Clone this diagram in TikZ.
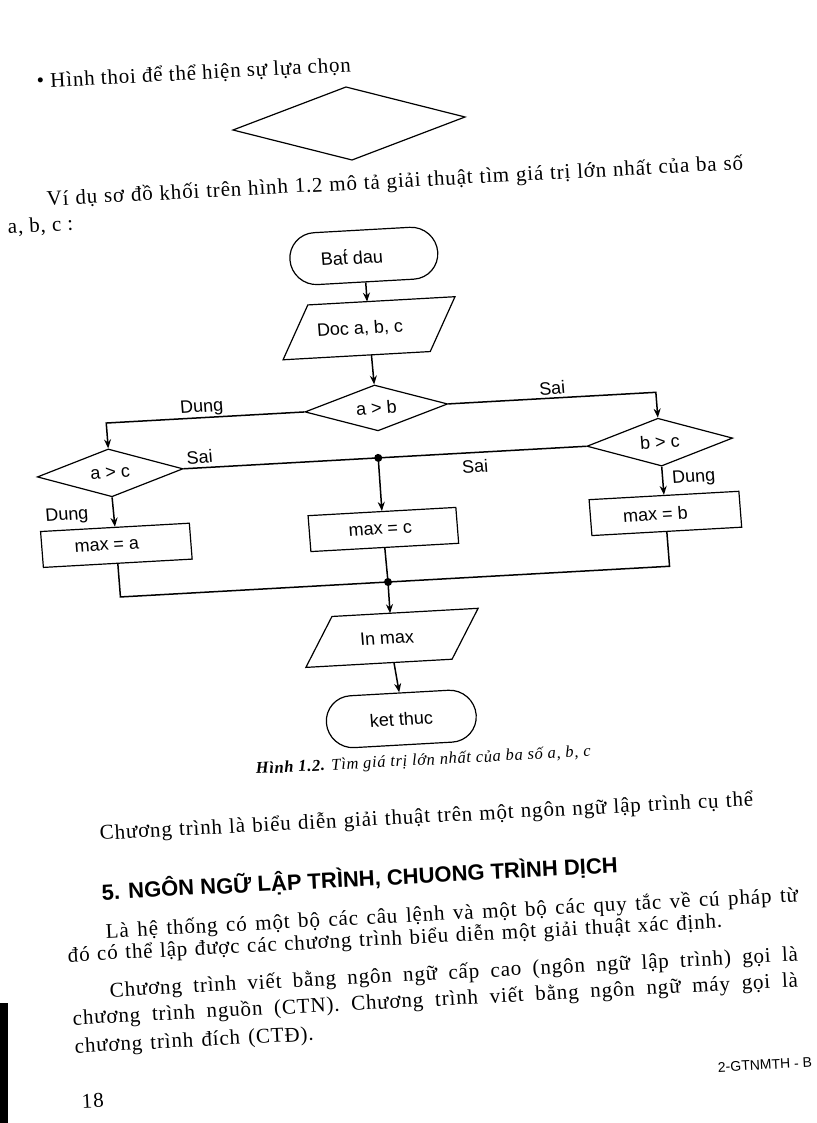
\documentclass[tikz,border=0pt]{standalone}
\usepackage{fontspec}
\setmainfont{Liberation Serif}[LetterSpace=4]
\newfontfamily\arialf{Liberation Sans}
\usetikzlibrary{shapes.geometric,shapes.misc,arrows.meta}
\newcommand\bodyfont{\fontsize{21pt}{25pt}\selectfont}
\newcommand\chartfont{\arialf\fontsize{18pt}{20pt}\selectfont}
\begin{document}
\begin{tikzpicture}[x=1pt,y=1pt,
  txt/.style={inner sep=0pt, anchor=base west, rotate=3, font=\bodyfont},
  shp/.style={draw, line width=1.2pt, font=\chartfont, inner sep=0pt},
  term/.style={shp, rounded rectangle, minimum width=148pt, minimum height=52pt},
  iobox/.style={inner sep=0pt, font=\chartfont, rectangle, minimum width=147pt},
  para/.style={line width=1.2pt},
  proc/.style={shp, rectangle, minimum width=149pt, minimum height=36pt},
  dec/.style={shp, diamond, aspect=3, minimum width=146pt, minimum height=48pt},
  lbl/.style={inner sep=0pt, font=\chartfont},
  arr/.style={line width=1.5pt, -{Stealth[length=9pt,width=7pt]}},
  conn/.style={line width=1.5pt}]
\useasboundingbox (0,0) rectangle (816,-1123);
\fill[white] (0,0) rectangle (816,-1123);

% top diamond (Hinh thoi)
\coordinate (hl) at (233,-130);
\coordinate (ht) at (346,-87);
\coordinate (hr) at (465,-117);
\coordinate (hb) at (352,-160);
\draw[line width=1.2pt] (hl) -- (ht) -- (hr) -- (hb) -- cycle;

% page text
\node[txt] (t1) at (37,-88) {• Hình thoi để thể hiện sự lựa chọn};
\node[txt] (t2) at (47,-206) {\makebox[697pt][s]{Ví dụ sơ đồ khối trên hình 1.2 mô tả giải thuật tìm giá trị lớn nhất của ba số}};
\node[txt] (t3) at (8,-234) {a, b, c :};
\node[txt, font=\fontsize{16.5pt}{19pt}\selectfont\itshape] (cap) at (256,-774) {\textbf{Hình 1.2.} Tìm giá trị lớn nhất của ba số a, b, c};
\node[txt] (t5) at (100,-840) {\makebox[654pt][s]{Chương trình là biểu diễn giải thuật trên một ngôn ngữ lập trình cụ thể}};
\node[txt, font=\arialf\bfseries\fontsize{22pt}{26pt}\selectfont] (h) at (102,-900) {5. NGÔN NGỮ LẬP TRÌNH, CHUONG TRÌNH DỊCH};
\node[txt] (t7) at (106,-938) {\makebox[693pt][s]{Là hệ thống có một bộ các câu lệnh và một bộ các quy tắc về cú pháp từ}};
\node[txt] (t8) at (68,-962) {\makebox[655pt][s]{đó có thể lập được các chương trình biểu diễn một giải thuật xác định.}};
\node[txt] (t9) at (110,-997) {\makebox[689pt][s]{Chương trình viết bằng ngôn ngữ cấp cao (ngôn ngữ lập trình) gọi là}};
\node[txt] (t10) at (73,-1025) {\makebox[726pt][s]{chương trình nguồn (CTN). Chương trình viết bằng ngôn ngữ máy gọi là}};
\node[txt] (t11) at (75,-1053) {\makebox[239pt][s]{chương trình đích (CTĐ).}};
\node[txt, font=\arialf\fontsize{14pt}{16pt}\selectfont] (pg) at (718,-1072) {2-GTNMTH - B};
\node[txt] (num) at (82,-1108) {18};
\fill (0,-1003) rectangle (8,-1123);

% flowchart
\begin{scope}[cm={0.9984,0.0558,-0.0785,0.9969,(388pt,-582pt)}, transform shape]
\node[term] (bd) at (1.5,327) {\hspace*{-24pt}Bat^^^^0301 dau};
\node[iobox, minimum height=53pt] (doc) at (1,254.5) {\hspace*{-18pt}Doc a, b, c};
\draw[para] ([xshift=-14.5pt]doc.south west) -- ([xshift=14.5pt]doc.north west)
  -- ([xshift=14.5pt]doc.north east) -- ([xshift=-14.5pt]doc.south east) -- cycle;
\node[dec, minimum height=46pt, minimum width=143pt] (ab) at (2,174.5) {a > b};
\node[dec] (bc) at (282,124.5) {b > c};
\node[dec] (ac) at (-268.5,124.5) {a > c};
\coordinate (J1) at (0,124.5);
\node[proc] (mxa) at (-268,51.8) {\hspace*{-19pt}max = a};
\node[proc, minimum width=148pt] (mxc) at (-0.5,52.7) {\hspace*{-6pt}max = c};
\node[proc, minimum width=150pt] (mxb) at (282,53) {\hspace*{-20pt}max = b};
\coordinate (J2) at (0,0);
\node[iobox, minimum height=49pt, minimum width=146pt] (inm) at (-0.4,-56) {\hspace*{-10pt}In max};
\draw[para] ([xshift=-15pt]inm.south west) -- ([xshift=15pt]inm.north west)
  -- ([xshift=15pt]inm.north east) -- ([xshift=-15pt]inm.south east) -- cycle;
\node[term, minimum width=150pt] (kt) at (2.5,-137.5) {ket thuc};

\draw[arr] (bd) -- (doc);
\draw[arr] (doc) -- (ab);
\draw[arr] (ab.west) -| (ac.north);
\draw[arr] (ab.east) -| (bc.north);
\draw[conn] (ac.east) -- (J1);
\draw[conn] (bc.west) -- (J1);
\draw[arr] (J1) -- (mxc.north);
\draw[arr] (ac.south) -- (mxa.north);
\draw[arr] (bc.south) -- (mxb.north);
\draw[conn] (mxa.south) |- (J2);
\draw[conn] (mxb.south) |- (J2);
\draw[conn] (mxc.south) -- (J2);
\draw[arr] (J2) -- (inm.north);
\draw[arr] (inm.south) -- (kt.north);
\fill (J1) circle (4pt);
\fill (J2) circle (4pt);

\node[lbl] (l1) at (-172,184.2) {Dung};
\node[lbl] (l2) at (179,184.5) {Sai};
\node[lbl] (l3) at (-178,135.3) {Sai};
\node[lbl] (l4) at (96,110.9) {Sai};
\node[lbl] (l5) at (-315,83.8) {Dung};
\node[lbl] (l6) at (313,86.8) {Dung};
\end{scope}
\end{tikzpicture}
\end{document}
